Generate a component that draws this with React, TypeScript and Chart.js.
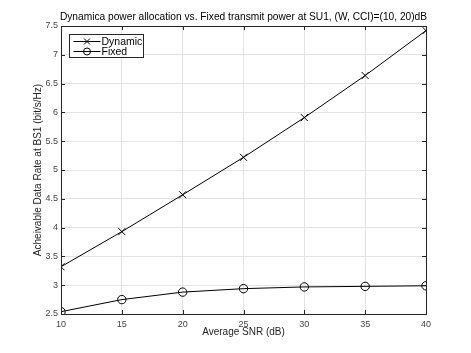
import React, { useEffect, useRef } from "react";
import { Chart, registerables } from "chart.js";

Chart.register(...registerables);

const snr = [10, 15, 20, 25, 30, 35, 40];
const dynamicRate = [3.32, 3.93, 4.57, 5.22, 5.91, 6.64, 7.42];
const fixedRate = [2.54, 2.75, 2.88, 2.94, 2.97, 2.98, 2.99];
const seriesLabels = ["Dynamic", "Fixed"];
const titleText = "Dynamica power allocation vs. Fixed transmit power at SU1, (W, CCI)=(10, 20)dB";
const xTitle = "Average SNR (dB)";
const yTitle = "Acheivable Data Rate at BS1 (bit/s/Hz)";

const FONT = "'Liberation Sans', Arial, Helvetica, sans-serif";

const boxPlugin = {
  id: "matlabBox",
  afterDatasetsDraw(chart: any) {
    const { ctx, chartArea: a, scales } = chart;
    ctx.save();
    // title centred over the plot area
    ctx.fillStyle = "#000";
    ctx.font = `10.2px ${FONT}`;
    ctx.textAlign = "center";
    ctx.textBaseline = "middle";
    ctx.fillText(chart.options.plugins.matlabBox.title, (a.left + a.right) / 2, a.top - 9);

    ctx.strokeStyle = "#262626";
    ctx.lineWidth = 1;
    const tl = 4;
    ctx.beginPath();
    scales.x.ticks.forEach((t: any) => {
      const px = Math.round(scales.x.getPixelForValue(t.value)) + 0.5;
      ctx.moveTo(px, a.bottom);
      ctx.lineTo(px, a.bottom - tl);
      ctx.moveTo(px, a.top);
      ctx.lineTo(px, a.top + tl);
    });
    scales.y.ticks.forEach((t: any) => {
      const py = Math.round(scales.y.getPixelForValue(t.value)) + 0.5;
      ctx.moveTo(a.left, py);
      ctx.lineTo(a.left + tl, py);
      ctx.moveTo(a.right, py);
      ctx.lineTo(a.right - tl, py);
    });
    ctx.stroke();
    ctx.strokeRect(Math.round(a.left) + 0.5, Math.round(a.top) + 0.5, Math.round(a.right - a.left), Math.round(a.bottom - a.top));

    // legend
    const lx = a.left + 8.5;
    const ly = a.top + 8.5;
    const lw = 74;
    const lh = 23;
    ctx.fillStyle = "#ffffff";
    ctx.fillRect(lx, ly, lw, lh);
    ctx.strokeRect(lx, ly, lw, lh);
    ctx.font = `10.5px ${FONT}`;
    ctx.textBaseline = "middle";
    ctx.textAlign = "left";
    chart.data.datasets.forEach((ds: any, i: number) => {
      const y = ly + 7 + i * 10;
      ctx.strokeStyle = "#000";
      ctx.beginPath();
      ctx.moveTo(lx + 4, y);
      ctx.lineTo(lx + 31, y);
      ctx.stroke();
      const cx = lx + 17.5;
      ctx.beginPath();
      if (ds.pointStyle === "crossRot") {
        ctx.moveTo(cx - 3, y - 3);
        ctx.lineTo(cx + 3, y + 3);
        ctx.moveTo(cx + 3, y - 3);
        ctx.lineTo(cx - 3, y + 3);
      } else {
        ctx.arc(cx, y, 3.5, 0, Math.PI * 2);
      }
      ctx.stroke();
      ctx.fillStyle = "#000";
      ctx.fillText(ds.label, lx + 32, y + 0.5);
    });
    ctx.restore();
  },
};

export default function App() {
  const ref = useRef<HTMLCanvasElement>(null);
  useEffect(() => {
    const chart = new Chart(ref.current!, {
      type: "line",
      data: {
        datasets: [
          {
            label: seriesLabels[0],
            data: snr.map((x, i) => ({ x, y: dynamicRate[i] })),
            borderColor: "#000",
            borderWidth: 1,
            pointStyle: "crossRot",
            pointRadius: 5,
            pointBorderColor: "#000",
            pointBorderWidth: 1,
            pointBackgroundColor: "transparent",
          },
          {
            label: seriesLabels[1],
            data: snr.map((x, i) => ({ x, y: fixedRate[i] })),
            borderColor: "#000",
            borderWidth: 1,
            pointStyle: "circle",
            pointRadius: 4.2,
            pointBorderColor: "#000",
            pointBorderWidth: 1,
            pointBackgroundColor: "transparent",
          },
        ],
      },
      options: {
        animation: false,
        responsive: false,
        layout: { padding: { left: 0, right: 45, top: 26, bottom: 0 } },
        plugins: {
          legend: { display: false },
          tooltip: { enabled: false },
          title: { display: false },
          // @ts-ignore
          matlabBox: { title: titleText },
        },
        scales: {
          x: {
            type: "linear",
            min: 10,
            max: 40,
            ticks: {
              stepSize: 5,
              autoSkip: false,
              maxRotation: 0,
              color: "#444",
              font: { family: FONT, size: 9 },
              padding: 5,
            },
            grid: { color: "#e3e3e3", drawTicks: false },
            border: { display: false },
            title: {
              display: true,
              text: xTitle,
              color: "#262626",
              font: { family: FONT, size: 10 },
              padding: { top: 0, bottom: 15 },
            },
            afterFit: (s: any) => {
              s.height = 39;
            },
          },
          y: {
            min: 2.5,
            max: 7.5,
            ticks: {
              stepSize: 0.5,
              autoSkip: false,
              color: "#444",
              font: { family: FONT, size: 9 },
              padding: 3,
              callback: (v: any) => String(Number(v)),
            },
            grid: { color: "#e3e3e3", drawTicks: false },
            border: { display: false },
            title: {
              display: true,
              text: yTitle,
              color: "#262626",
              font: { family: FONT, size: 10 },
              padding: { top: 32.5, bottom: 0 },
            },
            afterFit: (s: any) => {
              s.width = 61;
            },
          },
        },
      },
      plugins: [boxPlugin],
    });
    return () => chart.destroy();
  }, []);
  return (
    <div style={{ position: "fixed", left: 0, top: 0, width: 471, height: 353, background: "#fff" }}>
      <canvas ref={ref} width={471} height={353} style={{ width: 471, height: 353 }} />
    </div>
  );
}
